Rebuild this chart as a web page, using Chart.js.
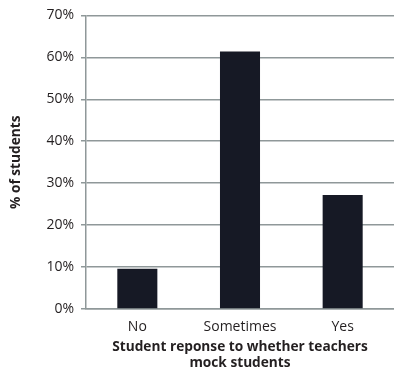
<!DOCTYPE html>
<html>
<head>
<meta charset="utf-8">
<script src="https://cdn.jsdelivr.net/npm/chart.js@4"></script>
<style>
  html, body { margin: 0; padding: 0; background: #fff; overflow: hidden; }
  #wrap { position: relative; width: 394px; height: 369px; }
</style>
</head>
<body>
<div id="wrap"><canvas id="c" width="394" height="369"></canvas></div>
<script>
const categories = ['No', 'Sometimes', 'Yes'];
const percentStudents = [9.6, 61.4, 27.2];
const yTicks = [0, 10, 20, 30, 40, 50, 60, 70];
const xTitle = ['Student reponse to whether teachers', 'mock students'];
const yTitle = '% of students';

const gridColor = '#8f9899';
const textColor = '#231f20';
const fontFamily = '"Open Sans", "Noto Sans", sans-serif';

new Chart(document.getElementById('c'), {
  type: 'bar',
  data: {
    labels: categories,
    datasets: [{
      data: percentStudents,
      backgroundColor: '#161925',
      borderWidth: 0,
      barPercentage: 0.39,
      categoryPercentage: 1.0
    }]
  },
  options: {
    responsive: false,
    animation: false,
    devicePixelRatio: 1,
    layout: { padding: { top: 15, right: 0, left: 0, bottom: 0 } },
    plugins: { legend: { display: false }, tooltip: { enabled: false } },
    scales: {
      x: {
        offset: true,
        grid: { display: false },
        border: { display: true, color: gridColor, width: 1.5 },
        ticks: { color: textColor, font: { family: fontFamily, size: 14 }, padding: 2, maxRotation: 0 },
        title: {
          display: true, text: xTitle, color: textColor,
          font: { family: fontFamily, size: 13.7, weight: 'bold', lineHeight: 1.17 },
          padding: { top: 0, bottom: -2 }
        },
        afterFit: (s) => { s.height = 60; }
      },
      y: {
        min: 0, max: 70,
        afterBuildTicks: (s) => { s.ticks = yTicks.map(v => ({ value: v })); },
        grid: { color: gridColor, lineWidth: 1.5, tickLength: 5, drawTicks: true },
        border: { display: true, color: gridColor, width: 1.5 },
        ticks: {
          color: textColor, font: { family: fontFamily, size: 14 }, padding: 7,
          callback: (v) => v + '%'
        },
        title: {
          display: true, text: yTitle, color: textColor,
          font: { family: fontFamily, size: 13.7, weight: 'bold' },
          padding: { top: 8, bottom: 0 }
        },
        afterFit: (s) => { s.width = 86; }
      }
    }
  }
});
</script>
</body>
</html>
